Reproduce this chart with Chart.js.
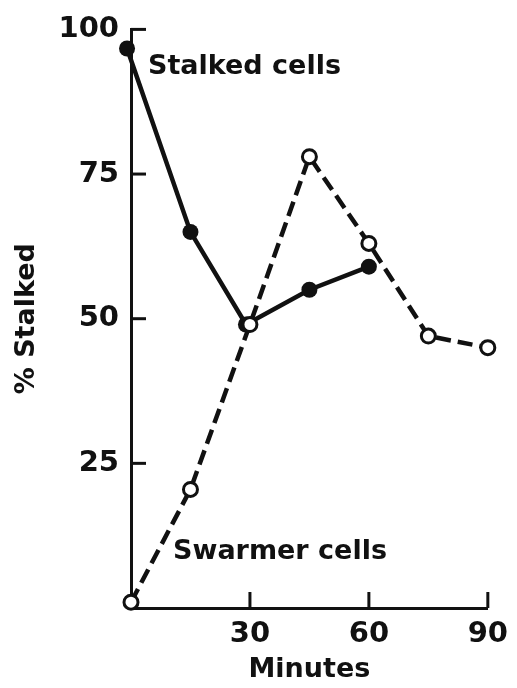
<!DOCTYPE html>
<html>
<head>
<meta charset="utf-8">
<script src="https://cdn.jsdelivr.net/npm/chart.js@4.4.1/dist/chart.umd.min.js"></script>
<style>
  html, body { margin: 0; padding: 0; background: #fff; }
  #wrap { width: 517px; height: 688px; }
</style>
</head>
<body>
<div id="wrap"><canvas id="chart" width="517" height="688"></canvas></div>
<script>
// minutes after synchrony, percent stalked
const swarmerMinutes = [0, 15, 30, 45, 60, 75, 90];
const swarmerValues = [1, 20.5, 49, 78, 63, 47, 45];
const stalkedMinutes = [-1, 15, 29, 45, 60];
const stalkedValues = [96.7, 65, 49, 55, 59];
const xTicks = [30, 60, 90];
const yTicks = [25, 50, 75, 100];

const ink = "#111";

function toPoints(xs, ys) {
    return xs.map((x, i) => ({ x: x, y: ys[i] }));
}

// inward tick marks and the two curve labels
const decorations = {
    id: "decorations",
    afterDraw(chart) {
        const ctx = chart.ctx;
        const xs = chart.scales.x;
        const ys = chart.scales.y;
        const area = chart.chartArea;
        ctx.save();
        ctx.strokeStyle = ink;
        ctx.lineWidth = 3;
        ctx.lineCap = "butt";
        yTicks.forEach(v => {
            const py = ys.getPixelForValue(v);
            ctx.beginPath();
            ctx.moveTo(area.left, py);
            ctx.lineTo(area.left + 15, py);
            ctx.stroke();
        });
        xTicks.forEach(v => {
            const px = xs.getPixelForValue(v);
            ctx.beginPath();
            ctx.moveTo(px, area.bottom);
            ctx.lineTo(px, area.bottom - 16);
            ctx.stroke();
        });
        ctx.fillStyle = ink;
        ctx.font = "bold 27px 'DejaVu Sans'";
        ctx.textBaseline = "alphabetic";
        ctx.textAlign = "left";
        ctx.fillText("Stalked cells", 148, 74);
        ctx.fillText("Swarmer cells", 173, 559);
        ctx.restore();
    }
};

new Chart(document.getElementById("chart"), {
    type: "line",
    data: {
        datasets: [{
            label: "Swarmer cells",
            data: toPoints(swarmerMinutes, swarmerValues),
            borderColor: ink,
            borderWidth: 4.5,
            borderDash: [15, 7],
            pointRadius: 7,
            pointBorderWidth: 3,
            pointBorderColor: ink,
            pointBackgroundColor: "#fff",
            tension: 0,
            clip: false
        }, {
            label: "Stalked cells",
            data: toPoints(stalkedMinutes, stalkedValues),
            borderColor: ink,
            borderWidth: 4.5,
            pointRadius: 8,
            pointBorderWidth: 0,
            pointBackgroundColor: ink,
            tension: 0,
            clip: false
        }]
    },
    options: {
        responsive: false,
        animation: false,
        events: [],
        layout: { padding: { top: 21, right: 29, left: 0, bottom: 0 } },
        plugins: {
            legend: { display: false },
            tooltip: { enabled: false }
        },
        scales: {
            x: {
                type: "linear",
                min: 0,
                max: 90,
                afterFit(scale) { scale.height = 80; },
                afterBuildTicks(scale) { scale.ticks = xTicks.map(v => ({ value: v })); },
                grid: { display: false, drawTicks: false },
                border: { display: true, color: ink, width: 3 },
                ticks: {
                    color: ink,
                    padding: 9,
                    font: { family: "DejaVu Sans", size: 29, weight: "bold" }
                },
                title: {
                    display: true,
                    text: "Minutes",
                    color: ink,
                    padding: { top: 0, bottom: 2 },
                    font: { family: "DejaVu Sans", size: 27, weight: "bold" }
                }
            },
            y: {
                type: "linear",
                min: 0,
                max: 100,
                afterFit(scale) { scale.width = 131; },
                afterBuildTicks(scale) { scale.ticks = yTicks.map(v => ({ value: v })); },
                grid: { display: false, drawTicks: false },
                border: { display: true, color: ink, width: 3 },
                ticks: {
                    color: ink,
                    padding: 12,
                    font: { family: "DejaVu Sans", size: 29, weight: "bold" }
                },
                title: {
                    display: true,
                    text: "% Stalked",
                    color: ink,
                    padding: { top: 11, bottom: 0 },
                    font: { family: "DejaVu Sans", size: 27, weight: "bold" }
                }
            }
        }
    },
    plugins: [decorations]
});
</script>
</body>
</html>
